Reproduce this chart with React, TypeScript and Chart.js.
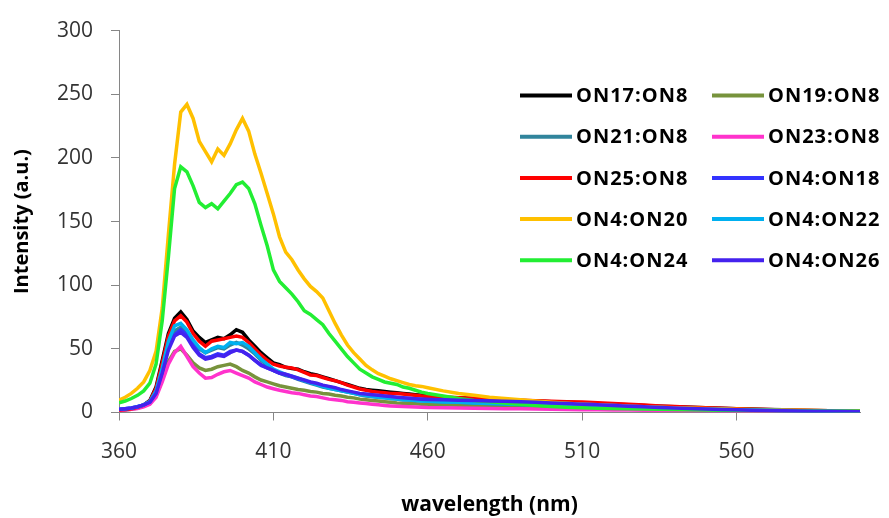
import React, { useEffect, useRef } from 'react';
import { Chart, registerables } from 'chart.js';

Chart.register(...registerables);

// Wavelengths (nm): 360–460 every 2 nm, then 465–600 every 5 nm
const WAVELENGTHS = [
  360, 362, 364, 366, 368, 370, 372, 374, 376, 378,
  380, 382, 384, 386, 388, 390, 392, 394, 396, 398,
  400, 402, 404, 406, 408, 410, 412, 414, 416, 418,
  420, 422, 424, 426, 428, 430, 432, 434, 436, 438,
  440, 442, 444, 446, 448, 450, 452, 454, 456, 458,
  460,
  465, 470, 475, 480, 485, 490, 495, 500, 505, 510,
  515, 520, 525, 530, 535, 540, 545, 550, 555, 560,
  565, 570, 575, 580, 585, 590, 595, 600,
];

const ON17_ON8 = [
  2, 2.4, 3, 4.2, 6, 9.5, 20, 41, 62, 74,
  79, 73, 64, 59, 55, 57, 59, 58, 61, 65,
  63, 57, 52, 47, 43, 39, 37.5, 35.5, 34.5, 34,
  32, 30.5, 29.5, 28, 26.5, 25, 23.5, 22, 20.5, 19,
  18, 17.5, 17, 16.5, 16, 15.5, 15, 14.5, 14, 13.5,
  13,
  12, 11.5, 11, 10.5, 10, 9.5, 9, 8.5, 8, 7.5,
  7, 6.5, 6, 5.5, 5, 4.6, 4.2, 3.8, 3.4, 3,
  2.7, 2.4, 2.1, 1.8, 1.5, 1.3, 1.1, 0.9,
];

const ON19_ON8 = [
  1.5, 2, 2.5, 3.5, 5, 7, 13, 26, 40, 48,
  50, 45, 39, 35, 33, 34, 36, 37, 38, 36,
  33, 31, 28, 25.5, 24, 22.5, 21, 20, 19, 18,
  17.4, 16.5, 16, 15, 14.5, 13.5, 13, 12, 11.5, 10.5,
  10, 9.5, 9, 8.5, 8, 7.5, 7.2, 7, 6.8, 6.5,
  6.2,
  6, 5.6, 5.3, 5, 4.7, 4.4, 4.2, 4, 3.8, 3.6,
  3.4, 3.2, 3, 2.8, 2.6, 2.4, 2.2, 2, 1.8, 1.6,
  1.5, 1.4, 1.3, 1.2, 1.1, 1, 0.9, 0.8,
];

const ON21_ON8 = [
  2, 2.5, 3, 4, 5.5, 8, 16, 33, 53, 64,
  67, 62, 55, 50, 47, 49, 51, 50, 53, 55,
  53, 50, 46, 41, 37, 33, 31, 29, 28, 26,
  24.5, 23, 21.5, 20, 19, 18, 17, 16, 15, 14,
  13, 12.5, 12, 11.5, 11, 10.5, 10, 9.8, 9.5, 9.2,
  9,
  8.5, 8, 7.5, 7, 6.6, 6.2, 5.8, 5.4, 5, 4.7,
  4.4, 4.1, 3.8, 3.5, 3.2, 2.9, 2.6, 2.4, 2.2, 2,
  1.8, 1.6, 1.4, 1.3, 1.1, 1, 0.9, 0.8,
];

const ON23_ON8 = [
  1.5, 2, 2.5, 3.2, 4.5, 6.5, 12, 24, 38, 47,
  52, 44, 36, 31, 27, 27.5, 30, 32, 33, 31,
  29, 27, 24, 22, 20, 18.7, 17.5, 16.5, 15.5, 15,
  14, 13, 12.5, 11.5, 10.5, 10, 9.5, 8.5, 8, 7.5,
  7, 6.5, 6, 5.5, 5.2, 5, 4.8, 4.6, 4.4, 4.2,
  4,
  3.8, 3.6, 3.4, 3.2, 3, 2.9, 2.7, 2.5, 2.4, 2.2,
  2.1, 2, 1.9, 1.8, 1.6, 1.5, 1.4, 1.3, 1.2, 1.1,
  1, 0.9, 0.9, 0.8, 0.7, 0.6, 0.6, 0.5,
];

const ON25_ON8 = [
  2, 2.4, 3, 4, 5.8, 9, 19, 39, 60, 72,
  76, 71, 62, 56, 52, 56, 57, 58, 59, 60,
  59, 55, 50, 45, 41, 38, 36.5, 35.5, 35, 33.5,
  31.5, 29.5, 29, 27.5, 26, 25, 23.5, 21.5, 20, 18.5,
  17.5, 16.5, 16, 15.5, 15, 15, 14.5, 14, 13.5, 13,
  12.5,
  12, 11.5, 11, 10.5, 10, 9.6, 9.2, 8.8, 8.5, 8.2,
  7.6, 7, 6.4, 5.8, 5.2, 4.7, 4.2, 3.7, 3.3, 2.9,
  2.6, 2.3, 2, 1.7, 1.5, 1.3, 1.1, 0.9,
];

const ON4_ON18 = [
  2.5, 3, 3.5, 4.5, 6, 8.5, 16, 32, 51, 61,
  65, 61, 53, 46, 43, 44, 46, 45, 48, 49,
  48, 45, 41, 37, 35, 33, 31, 29.5, 28, 26.5,
  25, 23.5, 22.5, 21, 20, 19, 17.5, 16.5, 15.5, 14.5,
  14, 13.5, 13, 12.5, 12, 11.5, 11.2, 11, 10.7, 10.4,
  10.2,
  9.8, 9.5, 9.2, 8.9, 8.6, 8.2, 7.8, 7.4, 7, 6.6,
  6.1, 5.6, 5.1, 4.6, 4.1, 3.6, 3.2, 2.8, 2.5, 2.2,
  1.9, 1.7, 1.5, 1.3, 1.1, 0.9, 0.7, 0.6,
];

const ON4_ON20 = [
  9.6, 12, 15, 19, 24, 33, 48, 82, 140, 195,
  236, 242, 231, 213, 205, 197, 207, 202, 211, 222,
  231, 221, 203, 188, 172, 156, 138, 126, 120, 112,
  105, 99, 95, 90, 80, 70, 61, 53, 47, 42,
  37, 33.5, 30.5, 28.5, 26.5, 25, 23.5, 22, 21, 20.5,
  19.5,
  17, 15, 13.5, 12, 11, 10, 9, 8, 7.2, 6.5,
  6, 5.5, 5, 4.6, 4.2, 3.8, 3.5, 3.2, 2.9, 2.6,
  2.4, 2.2, 2, 1.8, 1.6, 1.4, 1.2, 1,
];

const ON4_ON22 = [
  2.5, 3, 3.5, 4.5, 6, 8.5, 17, 35, 56, 68,
  70, 65, 57, 51, 47, 50, 52, 51, 55, 54,
  55, 52, 47, 42, 38, 34, 32, 30, 28.5, 27,
  25, 23.5, 22, 20.5, 19, 18, 17, 16, 15, 14,
  13.5, 12.5, 12, 11.5, 11, 10.5, 10, 9.8, 9.5, 9,
  8.8,
  8.3, 8, 7.5, 7, 6.6, 6.2, 5.8, 5.5, 5.1, 4.8,
  4.5, 4.2, 3.9, 3.6, 3.3, 3, 2.7, 2.5, 2.3, 2.1,
  1.9, 1.7, 1.5, 1.3, 1.2, 1, 0.9, 0.8,
];

const ON4_ON24 = [
  7.5, 9, 11, 13.5, 17, 23, 38, 72, 122, 176,
  193, 189, 178, 165, 161, 164, 160, 166, 172, 179,
  181, 176, 164, 147, 131, 112, 103, 98, 93, 87,
  80, 77, 73, 69, 62, 56, 50, 44, 39, 34,
  31, 28, 26, 24, 23, 22, 20, 19, 17.5, 16,
  15,
  13, 11, 9.5, 8.5, 7.5, 6.5, 5.5, 4.8, 4.2, 3.7,
  3.4, 3.1, 2.9, 2.7, 2.5, 2.3, 2.1, 1.9, 1.8, 1.7,
  1.6, 1.5, 1.4, 1.3, 1.2, 1.1, 1, 0.9,
];

const ON4_ON26 = [
  2.5, 3, 3.5, 4.5, 6, 8, 15, 31, 49, 60,
  63, 59, 51, 45, 42, 43, 45, 44, 47, 49,
  48, 45, 41, 37.5, 35, 33, 31, 30, 28.5, 27,
  25.5, 24, 23, 21.5, 20.5, 19.5, 18, 17, 16, 15,
  14.5, 14, 13.5, 13, 12.5, 12, 11.6, 11.2, 10.8, 10.5,
  10.3,
  10, 9.7, 9.4, 9.1, 8.8, 8.4, 8, 7.5, 7, 6.5,
  6, 5.5, 5, 4.5, 4, 3.6, 3.2, 2.8, 2.4, 2.1,
  1.8, 1.6, 1.4, 1.2, 1, 0.9, 0.7, 0.6,
];

const SERIES_NAMES = [
  'ON17:ON8', 'ON19:ON8', 'ON21:ON8', 'ON23:ON8', 'ON25:ON8',
  'ON4:ON18', 'ON4:ON20', 'ON4:ON22', 'ON4:ON24', 'ON4:ON26',
];
const SERIES_VALUES = [
  ON17_ON8, ON19_ON8, ON21_ON8, ON23_ON8, ON25_ON8,
  ON4_ON18, ON4_ON20, ON4_ON22, ON4_ON24, ON4_ON26,
];
const SERIES_COLORS = [
  '#000000', '#77933C', '#31859C', '#FF33CC', '#FF0000',
  '#3333FF', '#FFC000', '#00B0F0', '#22EE33', '#4422EE',
];

const X_TICKS = [360, 410, 460, 510, 560];
const X_MIN = 360;
const X_MAX = 600;
const Y_MIN = 0;
const Y_MAX = 300;
const Y_STEP = 50;

const X_TITLE = 'wavelength (nm)';
const Y_TITLE = 'Intensity (a.u.)';

const AXIS_COLOR = '#868686';

const insideLegend = {
  id: 'insideLegend',
  afterDatasetsDraw(chart: any) {
    const ctx = chart.ctx as CanvasRenderingContext2D;
    ctx.save();
    chart.data.datasets.forEach((ds: any, i: number) => {
      const col = i % 2;
      const row = Math.floor(i / 2);
      const x0 = col === 0 ? 520 : 712;
      const y = 95.5 + row * 41.2;
      ctx.strokeStyle = ds.borderColor;
      ctx.lineWidth = 4;
      ctx.lineCap = 'butt';
      ctx.beginPath();
      ctx.moveTo(x0, y);
      ctx.lineTo(x0 + 52, y);
      ctx.stroke();
      ctx.fillStyle = '#000000';
      ctx.font = 'bold 20px "Open Sans"';
      try { (ctx as any).letterSpacing = '1px'; } catch (e) { /* ignore */ }
      ctx.textBaseline = 'middle';
      ctx.textAlign = 'left';
      ctx.fillText(ds.label, x0 + 56, y + 1);
    });
    ctx.restore();
  },
};

export default function App() {
  const canvasRef = useRef<HTMLCanvasElement | null>(null);

  useEffect(() => {
    if (!canvasRef.current) return;
    const datasets = SERIES_NAMES.map((name, i) => ({
      label: name,
      data: WAVELENGTHS.map((w, k) => ({ x: w, y: SERIES_VALUES[i][k] })),
      borderColor: SERIES_COLORS[i],
      backgroundColor: SERIES_COLORS[i],
      borderWidth: 3.5,
      pointRadius: 0,
      tension: 0,
      fill: false,
      order: SERIES_NAMES.length - i,
    }));

    const chart = new Chart(canvasRef.current, {
      type: 'line',
      data: { datasets },
      options: {
        animation: false,
        responsive: false,
        devicePixelRatio: 1,
        parsing: true,
        layout: { padding: { left: 0, top: 24, right: 29, bottom: 0 } },
        plugins: {
          legend: { display: false },
          tooltip: { enabled: false },
          title: { display: false },
        },
        scales: {
          x: {
            type: 'linear',
            min: X_MIN,
            max: X_MAX,
            afterBuildTicks: (scale: any) => {
              scale.ticks = X_TICKS.map((v) => ({ value: v }));
            },
            afterFit: (scale: any) => {
              scale.height = 105.5;
            },
            grid: {
              drawOnChartArea: false,
              drawTicks: true,
              tickLength: 8,
              color: AXIS_COLOR,
            },
            border: { display: true, color: AXIS_COLOR, width: 1 },
            ticks: {
              padding: 19,
              color: '#333333',
              font: { family: '"Open Sans"', size: 21 },
              maxRotation: 0,
              autoSkip: false,
              callback: (v: any) => String(v),
            },
            title: {
              display: true,
              text: X_TITLE,
              color: '#000000',
              font: { family: '"Open Sans"', size: 21, weight: 'bold' },
              padding: { top: 0, bottom: 0 },
            },
          },
          y: {
            type: 'linear',
            min: Y_MIN,
            max: Y_MAX,
            afterFit: (scale: any) => {
              scale.width = 119;
            },
            grid: {
              drawOnChartArea: false,
              drawTicks: true,
              tickLength: 8,
              color: AXIS_COLOR,
            },
            border: { display: true, color: AXIS_COLOR, width: 1 },
            ticks: {
              stepSize: Y_STEP,
              padding: 18,
              color: '#333333',
              font: { family: '"Open Sans"', size: 21 },
            },
            title: {
              display: true,
              text: Y_TITLE,
              color: '#000000',
              font: { family: '"Open Sans"', size: 20, weight: 'bold' },
              padding: { top: 10, bottom: 0 },
            },
          },
        },
      },
      plugins: [insideLegend],
    });

    return () => {
      chart.destroy();
    };
  }, []);

  return (
    <div style={{ position: 'fixed', left: 0, top: 0, width: 889, height: 518, background: '#ffffff' }}>
      <canvas ref={canvasRef} width={889} height={518} style={{ width: 889, height: 518, display: 'block' }} />
    </div>
  );
}
